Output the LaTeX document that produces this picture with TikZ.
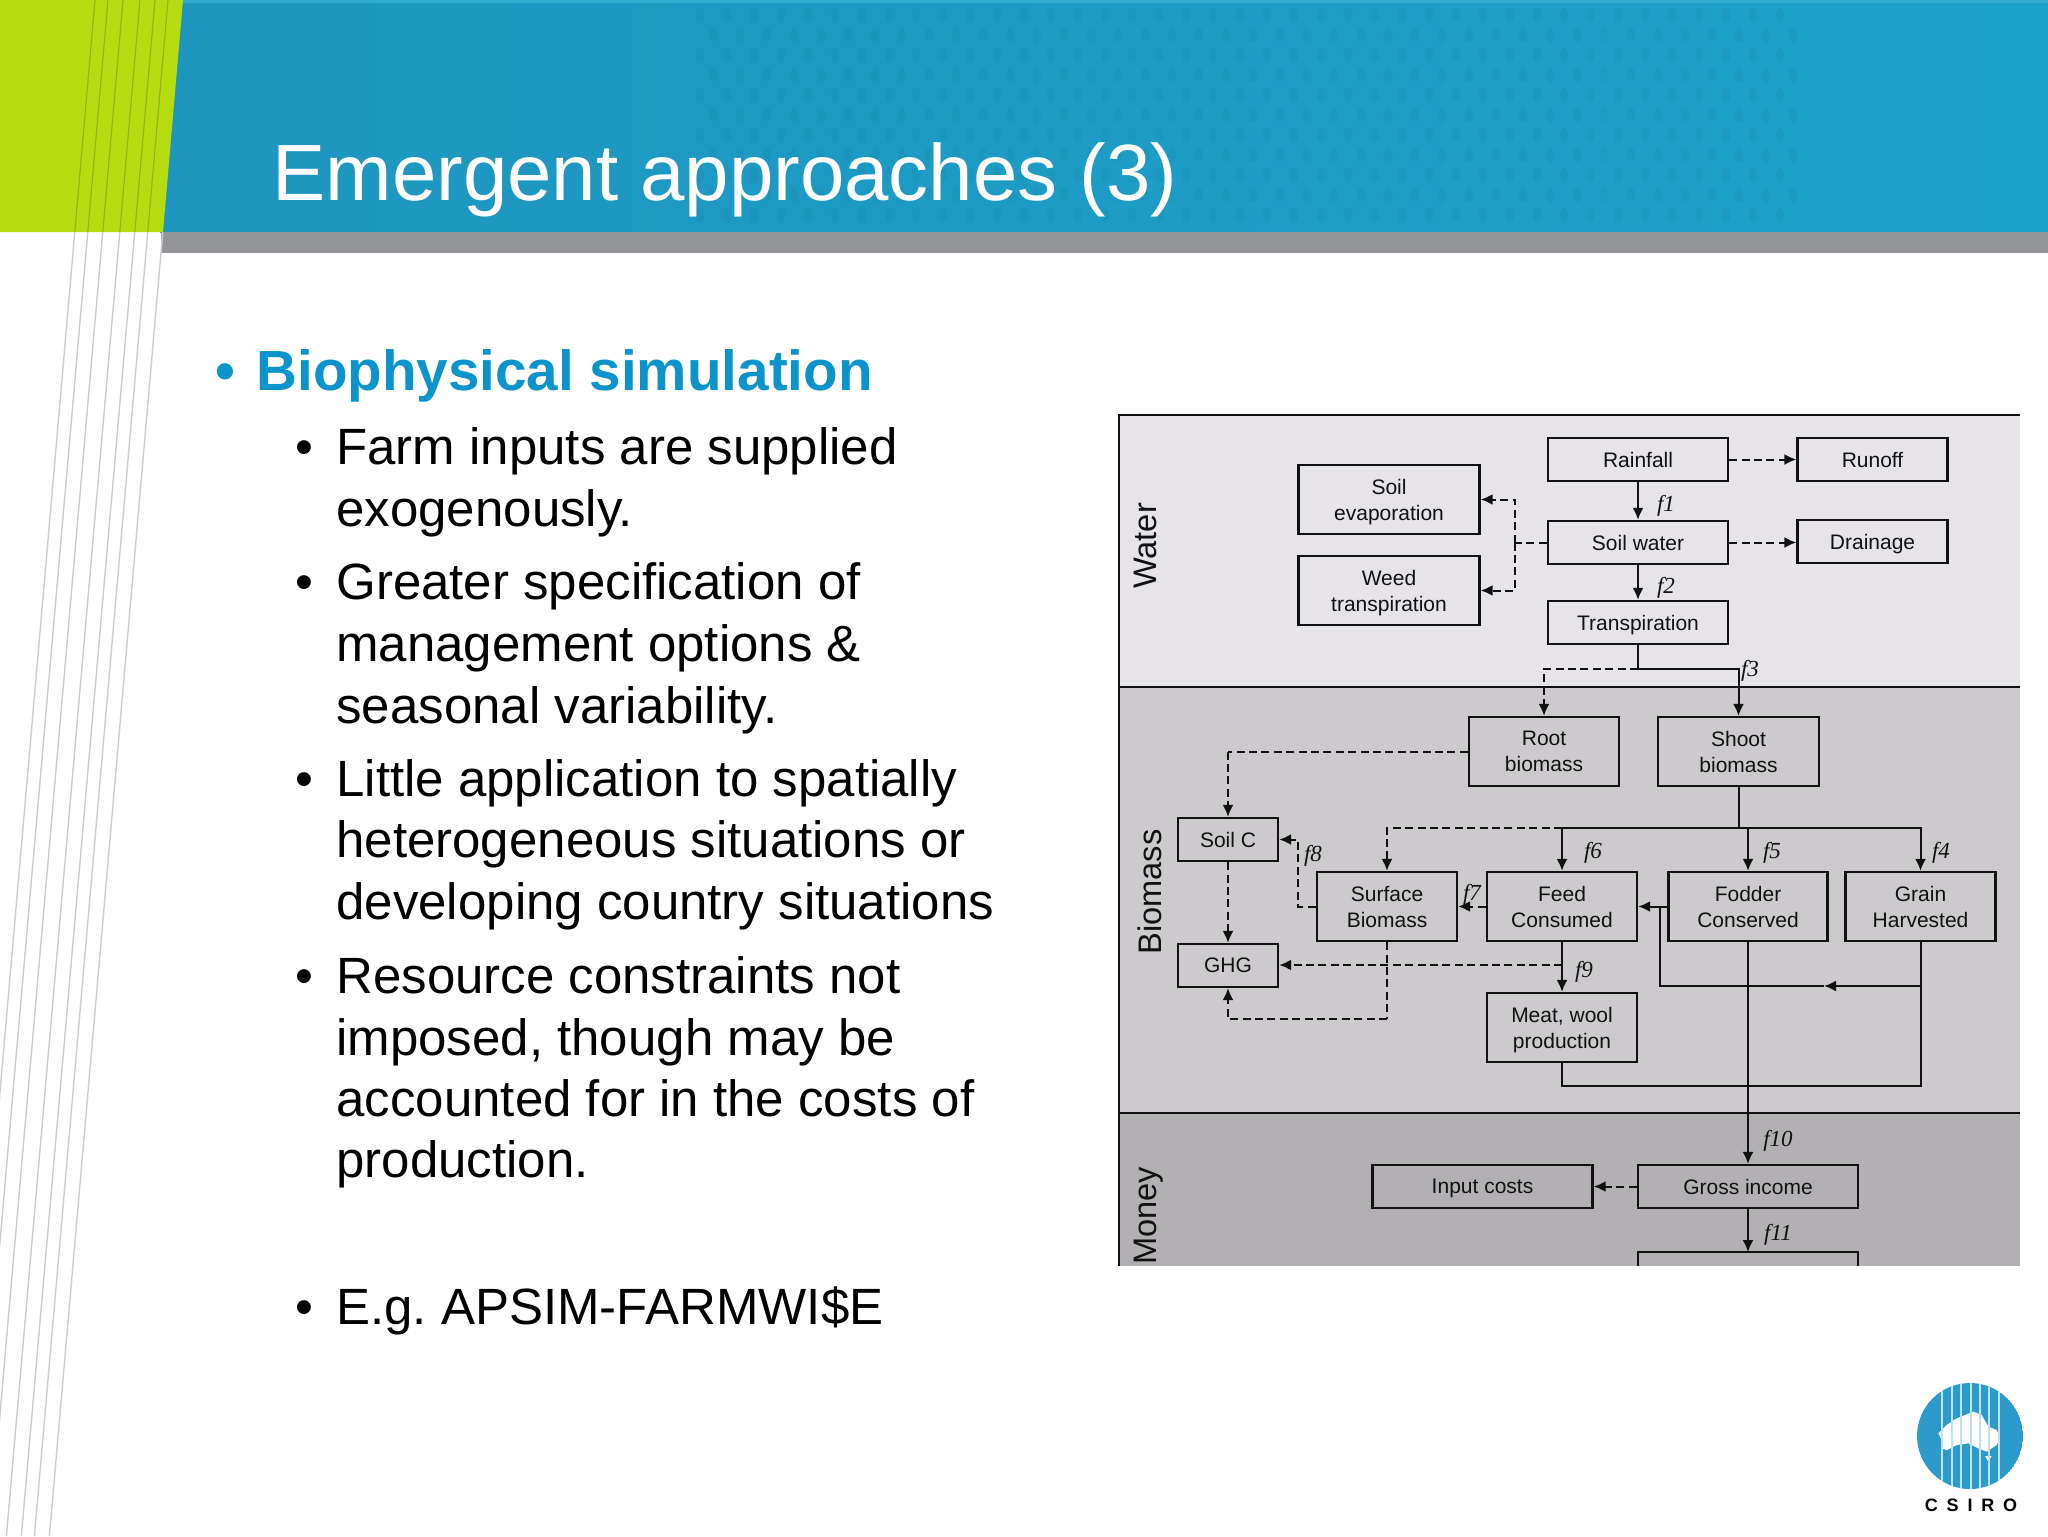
\documentclass[tikz,border=0pt]{standalone}
\usepackage{fontspec}
\setmainfont{Liberation Sans}
\newfontfamily\fserif{Liberation Serif}
\usetikzlibrary{arrows.meta}
\newcommand{\nodepth}[1]{\raisebox{0pt}[\height][0pt]{#1}}
\definecolor{grn}{HTML}{B6DC10}
\definecolor{bluL}{HTML}{1E95BF}
\definecolor{bluR}{HTML}{1CA3CC}
\definecolor{gband}{HTML}{949598}
\definecolor{fan}{HTML}{CDCDD1}
\definecolor{bhead}{HTML}{0A94CB}
\definecolor{watr}{HTML}{E6E4E8}
\definecolor{biom}{HTML}{CCCACD}
\definecolor{mony}{HTML}{B2B0B3}
\definecolor{ink}{HTML}{111111}
\definecolor{logob}{HTML}{2C9BCB}
\tikzset{
  bx/.style={draw=ink,line width=1.15pt,inner sep=0pt,align=center,font=\fontsize{10.5}{13}\selectfont,text=ink},
  sz1/.style={minimum width=90pt,minimum height=21.5pt},
  sz2/.style={minimum width=75pt,minimum height=21.5pt},
  sz3/.style={minimum width=90.5pt,minimum height=34.5pt},
  sz4/.style={minimum width=75pt,minimum height=34.5pt},
  sz5/.style={minimum width=50pt,minimum height=21.5pt},
  sz6/.style={minimum width=110pt,minimum height=21.5pt},
  solidc/.style={draw=ink,line width=1pt},
  dashc/.style={draw=ink,line width=1pt,dash pattern=on 4pt off 2.2pt},
  tip/.style={-{Latex[length=6pt,width=5.5pt]}},
  flab/.style={font=\fserif\itshape\fontsize{11.5}{12}\selectfont,text=ink,inner sep=0pt},
  sect/.style={rotate=90,anchor=base,font=\fontsize{16.3}{16}\selectfont,text=ink,inner sep=0pt},
  body/.style={anchor=base west,inner sep=0pt,font=\fontsize{25.5}{26}\selectfont,text=black},
  head/.style={anchor=base west,inner sep=0pt,font=\bfseries\fontsize{28.3}{29}\selectfont,text=bhead},
  dv/.style={draw=ink,line width=1.2pt},
}
\begin{document}
\begin{tikzpicture}[x=0.5pt,y=-0.5pt]
\useasboundingbox (0,0) rectangle (2048,1536);
\fill[white] (0,0) rectangle (2048,1536);
% header
\shade[left color=bluL,right color=bluR] (160,0) rectangle (2048,232);
\fill[bluR!90!white] (160,0) rectangle (2048,3);
\fill[gband] (161,232) rectangle (2048,253);
\foreach \ix in {0,...,40}{
  \foreach \iy in {0,...,10}{
    \pgfmathsetmacro{\dx}{700+\ix*27+mod(\iy,2)*13}
    \pgfmathsetmacro{\dy}{15+\iy*20}
    \fill[black!60!bluL,fill opacity=.05] (\dx,\dy) ellipse[x radius=2.2pt,y radius=3.6pt];
  }
}
\fill[grn] (0,0) -- (183,0) -- (163,232) -- (0,232) -- cycle;
\foreach \t in {95,108,123,140,155,168,183}{
  \pgfmathsetmacro{\b}{\t-133.6}
  \pgfmathsetmacro{\m}{\t-20.2}
  \draw[fan,line width=.7pt] (\m,232) -- (\b,1536);
  \ifnum\t<183 \draw[black!18!grn,line width=.6pt] (\t,0) -- (\m,232);\fi
}
\node[anchor=base west,inner sep=0pt,text=white,font=\fontsize{39.9}{40}\selectfont] (title) at (272,200) {Emergent approaches (3)};
% text
\node[head] (bulA) at (215,390) {•};
\node[head] (hA) at (256,390) {Biophysical simulation};
\node[body] (b1) at (295,464.5) {•};
\node[body] (l1) at (336,464.5) {Farm inputs are supplied};
\node[body] (l2) at (336,526.5) {exogenously.};
\node[body] (b2) at (295,599.5) {•};
\node[body] (l3) at (336,599.5) {Greater specification of};
\node[body] (l4) at (336,661.5) {management options \&};
\node[body] (l5) at (336,723.5) {seasonal variability.};
\node[body] (b3) at (295,796.5) {•};
\node[body] (l6) at (336,796.5) {Little application to spatially};
\node[body] (l7) at (336,857.5) {heterogeneous situations or};
\node[body] (l8) at (336,919.5) {developing country situations};
\node[body] (b4) at (295,993.5) {•};
\node[body] (l9) at (336,993.5) {Resource constraints not};
\node[body] (l10) at (336,1055.5) {imposed, though may be};
\node[body] (l11) at (336,1116.5) {accounted for in the costs of};
\node[body] (l12) at (336,1177.5) {production.};
\node[body] (b5) at (295,1324.5) {•};
\node[body] (l13) at (336,1324.5) {E.g.\ APSIM-FARMWI\$E};
% diagram bands
\fill[watr] (1119,415) rectangle (2020,687);
\fill[biom] (1119,687) rectangle (2020,1113);
\fill[mony] (1119,1113) rectangle (2020,1266);
\draw[dv] (1119,1266) -- (1119,415) -- (2020,415);
\draw[dv] (1119,687) -- (2020,687);
\draw[dv] (1119,1113) -- (2020,1113);
\node[sect] (sW) at (1156,546) {Water};
\node[sect] (sB) at (1161,892) {Biomass};
\begin{scope}
\clip (1119,1120) rectangle (2020,1266);
\node[sect] (sM) at (1156,1216) {Money};
\end{scope}
% boxes
\node[bx,sz1] (rain) at (1638,459.5) {Rainfall};
\node[bx,sz2] (runoff) at (1872.5,459.5) {Runoff};
\node[bx,sz3] (soilev) at (1389,499.5) {Soil\\\nodepth{evaporation}};
\node[bx,sz1] (swater) at (1638,542.5) {Soil water};
\node[bx,sz2] (drain) at (1872.5,541.5) {\nodepth{Drainage}};
\node[bx,sz3] (weed) at (1389,590.5) {Weed\\\nodepth{transpiration}};
\node[bx,sz1] (trans) at (1638,622.5) {\nodepth{Transpiration}};
\node[bx,sz4] (root) at (1544,751.5) {Root\\biomass};
\node[bx,minimum width=80.5pt,minimum height=34.5pt] (shoot) at (1738.5,751.5) {Shoot\\biomass};
\node[bx,sz5] (soilc) at (1228,839.5) {Soil C};
\node[bx,sz5] (ghg) at (1228,965.5) {GHG};
\node[bx,minimum width=70pt,minimum height=34.5pt] (surf) at (1387,906.5) {Surface\\Biomass};
\node[bx,sz4] (feed) at (1562,906.5) {Feed\\Consumed};
\node[bx,minimum width=79.5pt,minimum height=34.5pt] (fodder) at (1748,906.5) {Fodder\\Conserved};
\node[bx,sz4] (grain) at (1920.5,906.5) {Grain\\Harvested};
\node[bx,sz4] (meat) at (1562,1027.5) {Meat, wool\\\nodepth{production}};
\node[bx,sz6] (input) at (1482.5,1186.5) {\nodepth{Input costs}};
\node[bx,sz6] (gross) at (1748,1186.5) {Gross income};
\coordinate (botbox) at (1748,1252);
\draw[draw=ink,line width=1.15pt] (1638,1266) |- (botbox) -| (1858,1266);
% junctions
\coordinate (jw) at (1515,542.5);
\coordinate (jt) at (1638,669);
\coordinate (js) at (1738.5,828);
\coordinate (jb) at (1298,906.5);
\coordinate (jr) at (1228,751.5);
\coordinate (jm) at (1562,965);
\coordinate (jl) at (1387,1019);
\coordinate (jf) at (1660,906.5);
\coordinate (jc) at (1660,986);
\coordinate (jg) at (1920.5,986);
\coordinate (ja) at (1824,986);
\coordinate (jo) at (1748,1086);
% water connectors
\draw[solidc,tip] (rain.south) -- (swater.north);
\draw[solidc,tip] (swater.south) -- (trans.north);
\draw[dashc,tip] (rain.east) -- (runoff.west);
\draw[dashc,tip] (swater.east) -- (swater.east -| drain.west);
\draw[dashc] (swater.west) -- (jw);
\draw[dashc,tip] (jw) |- (soilev.east);
\draw[dashc,tip] (jw) |- (weed.east);
\draw[solidc] (trans.south) -- (jt);
\draw[solidc,tip] (jt) -| (shoot.north);
\draw[dashc,tip] (jt) -| (root.north);
% biomass connectors
\draw[solidc] (shoot.south) -- (js);
\draw[solidc,tip] (js) -| (grain.north);
\draw[solidc,tip] (js) -| (feed.north);
\draw[solidc,tip] (fodder.north |- js) -- (fodder.north);
\draw[dashc,tip] (feed.north |- js) -| (surf.north);
\draw[dashc] (root.west) -- (jr);
\draw[dashc,tip] (jr) -- (soilc.north);
\draw[dashc,tip] (soilc.south) -- (ghg.north);
\draw[dashc,tip] (feed.west) -- (surf.east);
\draw[dashc,tip] (surf.west) -- (jb) |- (soilc.east);
\draw[solidc,tip] (feed.south) -- (meat.north);
\draw[dashc,tip] (jm) -- (jm -| ghg.east);
\draw[dashc] (surf.south) -- (jl);
\draw[dashc,tip] (jl) -| (ghg.south);
\draw[solidc,tip] (fodder.west) -- (feed.east);
\draw[solidc] (jf) -- (jc) -- (ja);
\draw[solidc,tip] (jg) -- (ja);
\draw[solidc] (grain.south) |- (jo);
\draw[solidc] (meat.south) |- (jo);
\draw[solidc,tip] (fodder.south) -- (gross.north);
\draw[dashc,tip] (gross.west) -- (input.east);
\draw[solidc,tip] (gross.south) -- (botbox);
% f labels
\node[flab] (f1) at (1666,506) {f1};
\node[flab] (f2) at (1666,588) {f2};
\node[flab] (f3) at (1750,671) {f3};
\node[flab] (f4) at (1941,853) {f4};
\node[flab] (f5) at (1772,853) {f5};
\node[flab] (f6) at (1593,853) {f6};
\node[flab] (f7) at (1472,895) {f7};
\node[flab] (f8) at (1313,856) {f8};
\node[flab] (f9) at (1584,972) {f9};
\node[flab] (f10) at (1778,1141) {f10};
\node[flab] (f11) at (1778,1235) {f11};
% logo
\begin{scope}
\clip (1970,1436) circle[radius=26.5pt];
\fill[logob] (1970,1436) circle[radius=26.5pt];
\begin{scope}[shift={(1850,1350)},x=0.16667pt,y=-0.16667pt]
\fill[white] (265,250) -- (290,225) -- (320,205) -- (345,195) -- (370,185) -- (395,195) -- (415,230) -- (440,240) -- (450,265) -- (440,285) -- (410,305) -- (385,295) -- (355,280) -- (320,285) -- (290,300) -- (275,295) -- (275,270) -- cycle;
\fill[white] (405,318) -- (425,318) -- (415,335) -- cycle;
\end{scope}
\foreach \sx in {1942,1952,1961,1971,1980,1989,1999}{
  \draw[white!70!logob,line width=.75pt] (\sx,1380) -- (\sx,1490);
}
\end{scope}
\node[inner sep=0pt,text=black,font=\bfseries\fontsize{9}{9}\selectfont] (csiro) at (1971,1505) {\addfontfeature{LetterSpace=49}CSIRO};
\end{tikzpicture}
\end{document}
